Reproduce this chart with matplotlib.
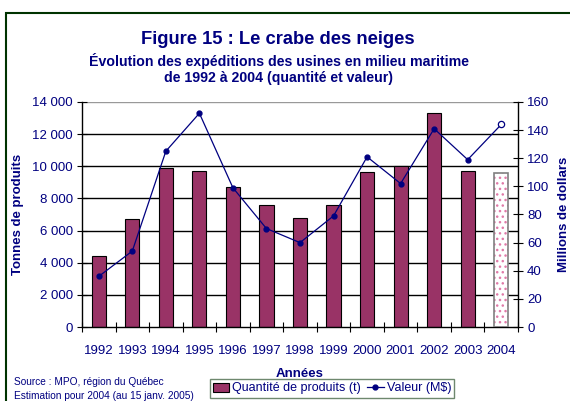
import matplotlib
matplotlib.use("Agg")
import matplotlib.pyplot as plt
from matplotlib.patches import Rectangle
from matplotlib.lines import Line2D
import numpy as np

plt.rcParams['font.family'] = ['Liberation Sans', 'DejaVu Sans']

years = ['1992', '1993', '1994', '1995', '1996', '1997', '1998',
         '1999', '2000', '2001', '2002', '2003', '2004']
quantite = [4430, 6720, 9900, 9720, 8700, 7560, 6780,
            7600, 9640, 9990, 13300, 9680, 9580]
valeur = [36, 54, 125, 152, 99, 70, 60, 79, 121, 102, 141, 119, 144]

left_ticks = [0, 2000, 4000, 6000, 8000, 10000, 12000, 14000]
left_labels = ['0', '2 000', '4 000', '6 000', '8 000', '10 000', '12 000', '14 000']
right_ticks = [0, 20, 40, 60, 80, 100, 120, 140, 160]

navy = '#000080'
bar_color = '#993366'

W, H = 570, 401
fig = plt.figure(figsize=(W / 100, H / 100), dpi=100)

# outer border
fig.patches.append(Rectangle((6 / W, -0.1), 1.2, (H - 13) / H + 0.1,
                             transform=fig.transFigure, fill=False,
                             edgecolor='#003300', linewidth=1.5))

ax = fig.add_axes([82 / W, (H - 327) / H, (518 - 82) / W, (327 - 102) / H])
x = np.arange(len(years))
n = len(years)

ax.set_axisbelow(True)
for t in left_ticks[1:]:
    ax.axhline(t, color='black' if t < 14000 else '#999999', lw=1.0, zorder=0)

ax.bar(x[:-1], quantite[:-1], width=0.42, color=bar_color,
       edgecolor='black', linewidth=0.8, zorder=2)
# estimated 2004 bar with pattern
ax.bar(x[-1:], quantite[-1:], width=0.42, color='white',
       edgecolor='#e07aa8', hatch='...', linewidth=0, zorder=2)
ax.bar(x[-1:], quantite[-1:], width=0.42, fill=False,
       edgecolor='#808080', linewidth=1.2, zorder=3)

ax.set_xlim(-0.5, n - 0.5)
ax.set_ylim(0, 14000)
ax.set_yticks(left_ticks)
ax.set_yticklabels(left_labels)
ax.set_xticks(x)
ax.set_xticklabels(years)
ax.set_xticks(np.arange(-0.5, n, 1.0), minor=True)
ax.tick_params(axis='x', which='major', length=0, pad=13, labelsize=9.5,
               labelcolor=navy)
ax.tick_params(axis='x', which='minor', length=7, direction='inout', width=0.8)
ax.tick_params(axis='y', direction='inout', length=7, width=0.8,
               labelsize=9.5, labelcolor=navy, pad=3)
for s in ['left', 'bottom', 'right']:
    ax.spines[s].set_linewidth(1.0)
ax.spines['top'].set_visible(False)

ax.set_ylabel('Tonnes de produits', fontsize=9.5, fontweight='bold',
              color=navy, labelpad=6)
ax.set_xlabel('Années', fontsize=9.5, fontweight='bold', color=navy,
              labelpad=8)

ax2 = ax.twinx()
ax2.set_ylim(0, 160)
ax2.set_yticks(right_ticks)
ax2.plot(x[:-1], valeur[:-1], color=navy, lw=0.9, marker='o', ms=3.5,
         zorder=4)
ax2.plot(x[-2:], valeur[-2:], color=navy, lw=0.9, zorder=4)
ax2.plot(x[-1:], valeur[-1:], color=navy, marker='o', ms=4.5,
         markerfacecolor='white', markeredgewidth=0.9, zorder=5)
ax2.tick_params(axis='y', direction='inout', length=7, width=0.8,
                labelsize=9.5, labelcolor=navy, pad=3)
for s in ['left', 'bottom', 'right']:
    ax2.spines[s].set_visible(False)
ax2.spines['top'].set_visible(False)
ax2.set_ylabel('Millions de dollars', fontsize=9.5, fontweight='bold',
               color=navy, labelpad=6, rotation=90)

# titles
fig.text(278 / W, 1 - 40 / H, 'Figure 15 : Le crabe des neiges',
         ha='center', va='center', fontsize=13.2, fontweight='bold', color=navy)
fig.text(279 / W, 1 - 61 / H,
         'Évolution des expéditions des usines en milieu maritime',
         ha='center', va='center', fontsize=10.2, fontweight='bold', color=navy)
fig.text(279 / W, 1 - 78 / H, 'de 1992 à 2004 (quantité et valeur)',
         ha='center', va='center', fontsize=10.2, fontweight='bold', color=navy)

fig.text(14 / W, 1 - 382 / H, 'Source : MPO, région du Québec',
         ha='left', va='center', fontsize=7.3, color=navy)
fig.text(14 / W, 1 - 396 / H, 'Estimation pour 2004 (au 15 janv. 2005)',
         ha='left', va='center', fontsize=7.3, color=navy)

handles = [Rectangle((0, 0), 1, 1, facecolor=bar_color, edgecolor='black',
                     linewidth=0.8),
           Line2D([], [], color=navy, lw=0.9, marker='o', ms=3.5)]
leg = fig.legend(handles, ['Quantité de produits (t)', 'Valeur (M$)'],
                 loc='center', bbox_to_anchor=(332 / W, 1 - 388.5 / H),
                 ncol=2, fontsize=9, frameon=True, fancybox=False,
                 handlelength=1.3, handleheight=0.7, handletextpad=0.25,
                 columnspacing=0.5, borderpad=0.25, borderaxespad=0)
for t in leg.get_texts():
    t.set_color(navy)
leg.get_frame().set_edgecolor('#4a6b4a')
leg.get_frame().set_linewidth(1.0)

fig.savefig('out.png', dpi=100)
